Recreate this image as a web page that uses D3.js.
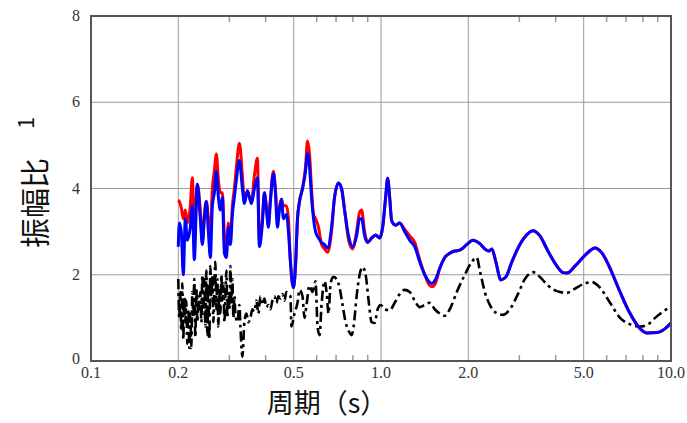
<!DOCTYPE html>
<html>
<head>
<meta charset="utf-8">
<script src="https://cdn.jsdelivr.net/npm/d3@7"></script>
<style>
  body { margin: 0; background: #fff; }
  svg { display: block; }
  .tick-label { font-family: 'Liberation Serif', 'Times New Roman', 'DejaVu Serif', serif; font-size: 16px; fill: #333; }
  .title { font-family: 'Noto Sans CJK SC', 'Noto Sans', sans-serif; fill: #111; }
</style>
</head>
<body>
<div id="container"></div>
<script>
// periods (s) shared by the red and blue curves
const periods = [
    0.2000, 0.2016, 0.2048, 0.2081, 0.2115, 0.2148, 0.2200, 0.2236, 0.2271, 0.2326,
    0.2382, 0.2421, 0.2460, 0.2499, 0.2539, 0.2580, 0.2621, 0.2663, 0.2706, 0.2749,
    0.2793, 0.2838, 0.2884, 0.2930, 0.2977, 0.3025, 0.3073, 0.3122, 0.3172, 0.3249,
    0.3327, 0.3380, 0.3461, 0.3517, 0.3573, 0.3660, 0.3748, 0.3808, 0.3900, 0.3962,
    0.4026, 0.4090, 0.4156, 0.4256, 0.4324, 0.4394, 0.4464, 0.4536, 0.4608, 0.4720,
    0.4795, 0.4872, 0.4989, 0.5072, 0.5153, 0.5236, 0.5362, 0.5492, 0.5580, 0.5669,
    0.5760, 0.5853, 0.5947, 0.6090, 0.6237, 0.6388, 0.6542, 0.6753, 0.6917, 0.7140,
    0.7312, 0.7489, 0.7731, 0.7981, 0.8239, 0.8438, 0.8573, 0.8781, 0.8993, 0.9283,
    0.9583, 0.9893, 1.0132, 1.0377, 1.0543, 1.0712, 1.0884, 1.1236, 1.1599, 1.2070,
    1.2559, 1.3069, 1.3599, 1.4151, 1.4608, 1.4961, 1.5445, 1.5944, 1.6591, 1.7264,
    1.7965, 1.8693, 1.9763, 2.0729, 2.1916, 2.2805, 2.3542, 2.4111, 2.4890, 2.5900,
    2.6951, 2.8268, 3.0126, 3.1850, 3.3407, 3.5320, 3.7640, 4.0433, 4.2409, 4.3780,
    4.6656, 5.0518, 5.4700, 5.7831, 6.1631, 6.6734, 7.2258, 7.8240, 8.2719, 8.9567,
    9.5453, 10.000
];

const blueValues = [
    2.65, 3.20, 3.00, 2.00, 3.30, 2.80, 3.10, 3.60, 2.35, 4.10,
    3.30, 2.70, 3.30, 3.70, 3.00, 2.40, 3.60, 3.90, 4.40, 3.80,
    3.50, 3.80, 2.50, 2.40, 3.10, 2.70, 3.40, 3.80, 4.20, 4.65,
    4.00, 3.65, 3.95, 3.80, 3.65, 4.00, 4.25, 2.65, 3.20, 3.90,
    3.50, 3.10, 3.70, 4.35, 3.90, 3.10, 3.50, 3.75, 3.30, 3.40,
    3.00, 2.30, 1.70, 2.20, 3.30, 3.70, 4.00, 4.40, 4.82, 4.50,
    3.80, 3.30, 3.00, 2.85, 2.75, 2.70, 2.62, 3.10, 3.80, 4.13,
    4.00, 3.50, 2.90, 2.65, 2.90, 3.30, 3.30, 2.90, 2.75, 2.85,
    2.92, 2.85, 3.10, 3.80, 4.24, 3.80, 3.25, 3.15, 3.20, 3.00,
    2.80, 2.65, 2.30, 2.00, 1.85, 1.80, 1.90, 2.15, 2.40, 2.50,
    2.55, 2.57, 2.70, 2.80, 2.72, 2.60, 2.55, 2.60, 2.30, 1.88,
    1.95, 2.30, 2.70, 2.93, 3.02, 2.90, 2.55, 2.20, 2.05, 2.04,
    2.20, 2.45, 2.62, 2.50, 2.15, 1.60, 1.10, 0.75, 0.65, 0.66,
    0.75, 0.88
];

const redValues = [
    3.73, 3.70, 3.55, 3.30, 3.50, 3.20, 3.60, 4.25, 3.00, 4.10,
    3.50, 2.75, 3.40, 3.70, 3.30, 2.90, 4.00, 4.40, 4.80, 4.20,
    3.90, 3.90, 2.90, 2.60, 3.20, 2.90, 3.60, 4.00, 4.50, 5.05,
    4.30, 3.70, 3.95, 3.80, 3.70, 4.30, 4.70, 2.80, 3.30, 3.90,
    3.60, 3.20, 3.75, 4.40, 4.00, 3.30, 3.55, 3.75, 3.60, 3.60,
    3.30, 2.30, 1.70, 2.20, 3.30, 3.70, 4.00, 4.50, 5.10, 4.80,
    4.00, 3.40, 3.30, 3.10, 2.70, 2.60, 2.52, 3.00, 3.80, 4.13,
    4.00, 3.50, 2.80, 2.60, 3.00, 3.45, 3.50, 3.00, 2.75, 2.85,
    2.92, 2.85, 3.10, 3.80, 4.24, 3.80, 3.25, 3.15, 3.20, 3.05,
    2.90, 2.75, 2.35, 2.00, 1.78, 1.72, 1.82, 2.15, 2.40, 2.50,
    2.55, 2.57, 2.70, 2.80, 2.72, 2.60, 2.55, 2.60, 2.30, 1.88,
    1.95, 2.30, 2.70, 2.93, 3.02, 2.90, 2.55, 2.20, 2.05, 2.04,
    2.20, 2.45, 2.62, 2.50, 2.15, 1.60, 1.10, 0.75, 0.65, 0.66,
    0.75, 0.88
];

// periods (s) of the black dash-dot curve
const blackPeriods = [
    0.2000, 0.2016, 0.2032, 0.2048, 0.2065, 0.2081, 0.2098, 0.2115, 0.2131, 0.2148,
    0.2166, 0.2183, 0.2200, 0.2218, 0.2236, 0.2253, 0.2271, 0.2290, 0.2308, 0.2326,
    0.2345, 0.2364, 0.2382, 0.2402, 0.2421, 0.2440, 0.2460, 0.2479, 0.2499, 0.2519,
    0.2539, 0.2559, 0.2580, 0.2600, 0.2621, 0.2642, 0.2663, 0.2684, 0.2706, 0.2727,
    0.2749, 0.2771, 0.2793, 0.2816, 0.2838, 0.2861, 0.2884, 0.2907, 0.2930, 0.2953,
    0.2977, 0.3001, 0.3025, 0.3049, 0.3073, 0.3098, 0.3122, 0.3147, 0.3198, 0.3249,
    0.3275, 0.3327, 0.3380, 0.3434, 0.3489, 0.3545, 0.3602, 0.3660, 0.3718, 0.3778,
    0.3838, 0.3900, 0.3962, 0.4026, 0.4090, 0.4156, 0.4222, 0.4290, 0.4359, 0.4429,
    0.4500, 0.4572, 0.4645, 0.4720, 0.4795, 0.4872, 0.4911, 0.5029, 0.5153, 0.5236,
    0.5362, 0.5448, 0.5536, 0.5669, 0.5806, 0.5947, 0.6042, 0.6139, 0.6237, 0.6388,
    0.6490, 0.6594, 0.6700, 0.6862, 0.7028, 0.7197, 0.7371, 0.7549, 0.7731, 0.7918,
    0.8045, 0.8239, 0.8438, 0.8642, 0.8851, 0.9064, 0.9283, 0.9507, 0.9737, 0.9972,
    1.0294, 1.0712, 1.1147, 1.1599, 1.2070, 1.2559, 1.3069, 1.3599, 1.4151, 1.4724,
    1.5322, 1.5944, 1.6591, 1.7264, 1.8253, 1.9452, 2.0564, 2.1398, 2.1916, 2.2805,
    2.3730, 2.4890, 2.6316, 2.7822, 2.9650, 3.1347, 3.3407, 3.5320, 3.7640, 4.0433,
    4.3780, 4.6656, 5.0518, 5.3411, 5.6918, 6.1631, 6.6734, 7.2258, 7.8240, 8.3380,
    8.8153, 9.3946, 10.000
];

const blackValues = [
    1.90, 1.00, 1.60, 0.70, 1.80, 0.50, 1.50, 0.90, 1.40, 0.40,
    1.20, 0.30, 1.10, 0.30, 1.60, 1.00, 1.90, 0.55, 1.70, 0.90,
    1.50, 1.20, 1.60, 0.90, 2.00, 1.10, 1.90, 0.80, 2.10, 0.60,
    1.80, 0.50, 2.20, 1.40, 2.00, 0.90, 1.60, 2.30, 1.20, 1.90,
    0.80, 1.70, 1.10, 2.00, 1.40, 1.80, 0.90, 1.50, 2.10, 1.00,
    1.60, 1.20, 2.20, 1.30, 1.90, 1.00, 1.50, 1.10, 0.90, 1.30,
    0.80, 0.10, 0.90, 1.10, 0.90, 1.00, 1.20, 1.15, 1.40, 1.10,
    1.50, 1.30, 1.45, 1.25, 1.30, 1.20, 1.40, 1.50, 1.35, 1.50,
    1.45, 1.55, 1.40, 1.60, 1.55, 1.50, 0.80, 1.10, 1.35, 1.65,
    1.50, 1.00, 1.30, 1.75, 1.60, 1.85, 0.80, 0.60, 1.30, 1.85,
    1.60, 1.10, 1.80, 1.95, 1.90, 1.70, 1.30, 0.90, 0.70, 0.60,
    0.80, 1.50, 2.00, 2.18, 2.00, 1.40, 0.90, 0.88, 1.20, 1.30,
    1.20, 1.18, 1.35, 1.55, 1.65, 1.60, 1.40, 1.25, 1.30, 1.35,
    1.20, 1.10, 1.05, 1.20, 1.60, 2.00, 2.30, 2.40, 2.10, 1.60,
    1.30, 1.12, 1.07, 1.20, 1.55, 1.90, 2.06, 1.95, 1.75, 1.62,
    1.58, 1.68, 1.80, 1.83, 1.70, 1.35, 1.00, 0.85, 0.80, 0.85,
    1.00, 1.15, 1.25
];

const xMajorTicks = [0.1, 0.2, 0.5, 1.0, 2.0, 5.0, 10.0];
const xMinorTicks = [0.3, 0.4, 0.6, 0.7, 0.8, 0.9, 3, 4, 6, 7, 8, 9];
const yTicks = [0, 2, 4, 6, 8];

const width = 687, height = 423;
const margin = { left: 91, right: 16, top: 16, bottom: 62 };
const innerW = width - margin.left - margin.right;
const innerH = height - margin.top - margin.bottom;

const x = d3.scaleLog().domain([0.1, 10]).range([0, innerW]);
const y = d3.scaleLinear().domain([0, 8]).range([innerH, 0]);

const svg = d3.select('#container').append('svg')
    .attr('width', width)
    .attr('height', height);

const g = svg.append('g').attr('transform', `translate(${margin.left} ${margin.top})`);

// grid
g.append('g').selectAll('line').data(xMajorTicks.slice(1, -1)).enter().append('line')
    .attr('x1', (d) => x(d)).attr('x2', (d) => x(d))
    .attr('y1', 0).attr('y2', innerH)
    .style('stroke', '#9a9a9a').style('stroke-width', 1);

g.append('g').selectAll('line').data(yTicks.slice(1, -1)).enter().append('line')
    .attr('x1', 0).attr('x2', innerW)
    .attr('y1', (d) => y(d)).attr('y2', (d) => y(d))
    .style('stroke', '#9a9a9a').style('stroke-width', 1);

// minor ticks inside, bottom and top
[innerH, 0].forEach((yy) => {
    g.append('g').selectAll('line').data(xMinorTicks).enter().append('line')
        .attr('x1', (d) => x(d)).attr('x2', (d) => x(d))
        .attr('y1', yy).attr('y2', yy === 0 ? 6 : innerH - 6)
        .style('stroke', '#9a9a9a').style('stroke-width', 1.5);
});

// curves
const line = d3.line()
    .x((d) => x(d[0]))
    .y((d) => y(d[1]))
    .curve(d3.curveMonotoneX);

const redData = periods.map((p, i) => [p, redValues[i]]);
const blueData = periods.map((p, i) => [p, blueValues[i]]);
const blackData = blackPeriods.map((p, i) => [p, blackValues[i]]);

g.append('path').datum(blackData)
    .attr('d', line)
    .style('fill', 'none')
    .style('stroke', '#000')
    .style('stroke-width', 2.6)
    .style('stroke-dasharray', '10,4,3,4');

g.append('path').datum(redData)
    .attr('d', line)
    .style('fill', 'none')
    .style('stroke', '#ff0000')
    .style('stroke-width', 3);

g.append('path').datum(blueData)
    .attr('d', line)
    .style('fill', 'none')
    .style('stroke', '#0000ff')
    .style('stroke-width', 3);

// frame
g.append('rect')
    .attr('width', innerW)
    .attr('height', innerH)
    .style('fill', 'none')
    .style('stroke', '#555')
    .style('stroke-width', 2);

// tick labels
g.append('g').selectAll('text').data(xMajorTicks).enter().append('text')
    .attr('class', 'tick-label')
    .attr('x', (d) => x(d))
    .attr('y', innerH + 17)
    .attr('text-anchor', 'middle')
    .text((d) => d.toFixed(1));

g.append('g').selectAll('text').data(yTicks).enter().append('text')
    .attr('class', 'tick-label')
    .attr('x', -11)
    .attr('y', (d) => y(d) + (d === 0 ? 3 : 5))
    .attr('text-anchor', 'end')
    .text((d) => d);

// axis titles
svg.append('text')
    .attr('class', 'title')
    .attr('transform', 'translate(46 203) rotate(-90)')
    .attr('text-anchor', 'middle')
    .style('font-size', '30px')
    .text('振幅比');

svg.append('text')
    .attr('class', 'title')
    .attr('transform', 'translate(34 123) rotate(-90)')
    .attr('text-anchor', 'middle')
    .style('font-size', '22px')
    .text('1');

svg.append('text')
    .attr('class', 'title')
    .attr('x', 327)
    .attr('y', 413)
    .attr('text-anchor', 'middle')
    .style('font-size', '27px')
    .text('周期（s）');
</script>
</body>
</html>
